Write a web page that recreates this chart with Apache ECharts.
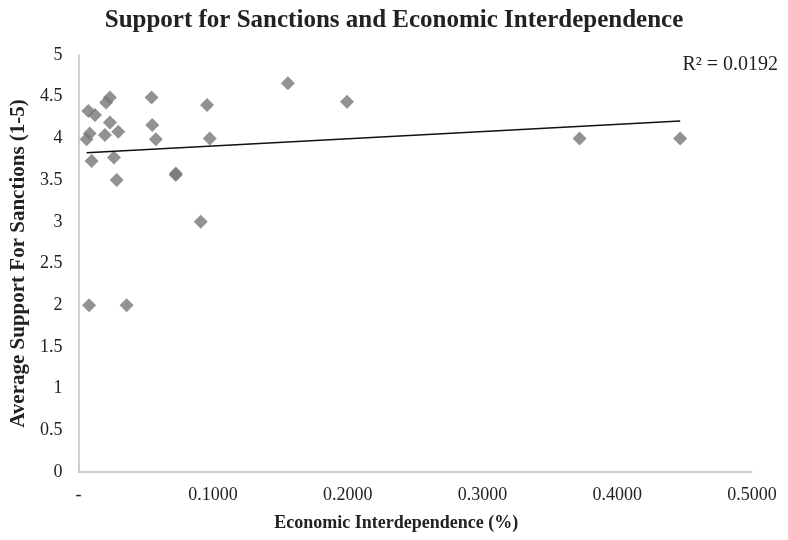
<!DOCTYPE html>
<html>
<head>
<meta charset="utf-8">
<script src="https://cdn.jsdelivr.net/npm/echarts@6/dist/echarts.min.js"></script>
<style>
  html, body { margin: 0; padding: 0; background: #fff; }
  #chart { width: 788px; height: 540px; }
</style>
</head>
<body>
<div id="chart"></div>
<script>
// 数据：经济相互依存度(%) 与 平均制裁支持度(1-5)
var interdependence = [0.0074, 0.0123, 0.0234, 0.0206, 0.0543, 0.0955, 0.1555, 0.1994,
  0.0234, 0.0548, 0.0296, 0.0084, 0.0061, 0.0197, 0.0575, 0.0975, 0.0098, 0.0264,
  0.0284, 0.0723, 0.0723, 0.0908, 0.0079, 0.0358, 0.3720, 0.4467];
var support = [4.33, 4.28, 4.49, 4.43, 4.49, 4.40, 4.66, 4.44,
  4.19, 4.16, 4.08, 4.06, 3.99, 4.04, 3.99, 4.00, 3.73, 3.77,
  3.50, 3.58, 3.56, 3.00, 2.00, 2.00, 4.00, 4.00];
var rSquaredText = 'R² = 0.0192';
var xTicks = [0, 0.1, 0.2, 0.3, 0.4, 0.5];

var points = interdependence.map(function (x, i) { return [x, support[i]]; });

// 线性趋势线（最小二乘）
var n = points.length, sx = 0, sy = 0, sxx = 0, sxy = 0;
points.forEach(function (p) { sx += p[0]; sy += p[1]; sxx += p[0] * p[0]; sxy += p[0] * p[1]; });
var slope = (n * sxy - sx * sy) / (n * sxx - sx * sx);
var intercept = (sy - slope * sx) / n;
var xMin = Math.min.apply(null, interdependence);
var xMax = Math.max.apply(null, interdependence);
var trend = [[xMin, intercept + slope * xMin], [xMax, intercept + slope * xMax]];

var chart = echarts.init(document.getElementById('chart'));

var font = '"Liberation Serif", "Times New Roman", serif';

var option = {
  animation: false,
  title: {
    text: 'Support for Sanctions and Economic Interdependence',
    left: 'center',
    top: 3,
    textStyle: { fontFamily: font, fontSize: 25, fontWeight: 'bold', color: '#222' }
  },
  grid: { left: 77, right: 36, top: 55, bottom: 68 },
  xAxis: {
    type: 'value',
    min: 0, max: 0.5, interval: 0.1,
    name: 'Economic Interdependence (%)',
    nameLocation: 'middle',
    nameGap: 42,
    nameTextStyle: {
      fontFamily: font, fontSize: 18, fontWeight: 'bold', color: '#222',
      padding: [0, 38, 0, 0]
    },
    axisLine: { show: true, lineStyle: { color: '#bfbfbf', width: 1.5 } },
    axisTick: { show: false },
    splitLine: { show: false },
    axisLabel: {
      fontFamily: font, fontSize: 18, color: '#222', margin: 14,
      formatter: function (v) { return v === xTicks[0] ? '-' : v.toFixed(4); }
    }
  },
  yAxis: {
    type: 'value',
    min: 0, max: 5, interval: 0.5,
    name: 'Average Support For Sanctions (1-5)',
    nameLocation: 'middle',
    nameGap: 48,
    nameTextStyle: { fontFamily: font, fontSize: 21, fontWeight: 'bold', color: '#222' },
    axisLine: { show: true, lineStyle: { color: '#bfbfbf', width: 1.5 } },
    axisTick: { show: false },
    splitLine: { show: false },
    axisLabel: { fontFamily: font, fontSize: 18, color: '#222', margin: 16 }
  },
  graphic: [{
    type: 'text',
    right: 10,
    top: 55,
    style: { text: rSquaredText, font: '20px ' + font, fill: '#222' }
  }],
  series: [
    {
      type: 'scatter',
      data: points,
      symbol: 'diamond',
      symbolSize: 14,
      itemStyle: { color: '#777777' }
    },
    {
      type: 'line',
      data: trend,
      symbol: 'none',
      lineStyle: { color: '#111', width: 1.5 },
      z: 3
    }
  ]
};

chart.setOption(option);

window.onresize = function () {
  chart.resize();
};
</script>
</body>
</html>
